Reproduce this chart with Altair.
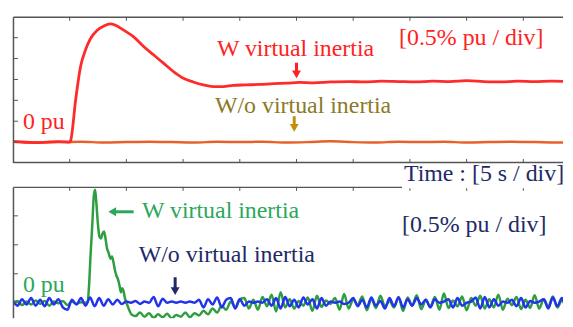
import altair as alt
import pandas as pd

# ---------------- data (time in s, 5 s/div ; values in % pu, 0.5 %/div) ----------------
T_END = 48.5
DIV_T = [5, 10, 15, 20, 25, 30, 35, 40, 45]

# top panel: with virtual inertia (red)
red_t = [0, 2.0, 4.0, 5.0, 5.1, 5.53, 5.96, 6.40, 6.84, 7.43, 8.01, 8.60, 9.18, 9.76, 10.64,
         11.52, 12.39, 13.27, 14.15, 15.03, 15.90, 16.78, 17.66, 18.54, 19.41, 20.5, 21.75,
         23.0, 24.2, 25.26, 26.5, 28.0, 29.65, 31.0, 32.5, 34.0, 35.5, 37.0, 38.5, 40.0,
         41.5, 43.0, 44.5, 46.0, 47.5, 49.2]
red_v = [0.01, -0.01, 0.01, 0.0, 0.05, 1.02, 1.81, 2.21, 2.48, 2.68, 2.78, 2.83, 2.78, 2.68,
         2.52, 2.29, 2.09, 1.89, 1.69, 1.53, 1.44, 1.37, 1.33, 1.33, 1.36, 1.37, 1.38, 1.40,
         1.41, 1.43, 1.42, 1.44, 1.45, 1.44, 1.46, 1.45, 1.44, 1.46, 1.45, 1.47, 1.45, 1.44,
         1.46, 1.45, 1.46, 1.45]

# top panel: without virtual inertia (orange)
orange_t = [0, 2, 4, 6, 8, 10, 12, 14, 16, 18, 20, 22, 24, 26, 28, 30, 32, 34, 36, 38, 40,
            42, 44, 46, 48, 49.2]
orange_v = [0.01, -0.01, 0.0, 0.01, -0.01, 0.0, 0.01, 0.0, -0.01, 0.01, 0.0, 0.01, -0.01,
            0.0, 0.02, 0.0, -0.01, 0.01, 0.0, 0.01, -0.01, 0.0, 0.01, 0.0, -0.01, 0.0]

# bottom panel: without virtual inertia (blue), sampled every 0.4 s
blue_v = [0.03, -0.05, 0.06, -0.03, 0.08, -0.05, 0.05, -0.06, 0.08, -0.03,
          0.06, -0.08, -0.12, 0.05, -0.03,
          0.08, -0.05, 0.09, -0.06, 0.08,
          -0.05, 0.06, -0.03, 0.05, -0.02,
          0.02, 0.00, 0.03, -0.02, 0.02, 0.00,
          0.10, -0.06, 0.07,
          0.00, 0.02, 0.00, 0.02, 0.00, 0.02, 0.00,
          0.05, -0.08, 0.06, -0.03, 0.09, -0.08, 0.05,
          0.08, -0.10, 0.06, -0.05,
          0.02, 0.00, 0.02, 0.00,
          0.06, -0.05, 0.08, -0.10, 0.10, -0.06, 0.05, -0.08, 0.09, -0.03, 0.06, -0.10, 0.08, -0.05,
          0.02, 0.00, 0.02, -0.02, 0.00,
          0.08, -0.06, 0.05, -0.08, 0.09, -0.05, 0.03, -0.10, 0.08, -0.06, 0.09, -0.08, 0.06,
          -0.05, 0.08, -0.03, 0.05, -0.08, 0.06, 0.00, 0.02,
          0.06, -0.08, 0.08, -0.05, 0.00, 0.02, 0.09, -0.10, 0.10, -0.08, 0.06, -0.05, 0.02, 0.00,
          0.05, -0.06, 0.08, -0.08, 0.03, 0.00, 0.02, 0.06, -0.10, 0.09, -0.06, 0.08, -0.05, 0.03]
blue_t = [round(i * 0.4, 1) for i in range(len(blue_v))]

# bottom panel: with virtual inertia (green)
green_pre_v = [0.00, 0.03, -0.04, 0.02, -0.03, 0.04, -0.02, 0.03, -0.05, 0.02, -0.01, 0.03,
               -0.04, 0.02, -0.02, 0.01, 0.00]
green_pre_t = [round(i * 0.4, 1) for i in range(len(green_pre_v))]
green_mid_t = [6.58, 6.71, 6.84, 6.99, 7.13, 7.24, 7.34, 7.48, 7.63, 7.76, 7.89, 8.03, 8.16,
               8.29, 8.42, 8.60, 8.73, 8.86, 8.99, 9.12, 9.27, 9.39, 9.52, 9.61, 9.74, 9.87,
               10.06, 10.26, 10.44]
green_mid_v = [0.01, 0.30, 0.82, 1.33, 1.85, 1.95, 1.76, 1.38, 1.14, 1.11, 1.19, 1.23, 1.11,
               0.94, 0.87, 0.76, 0.80, 0.70, 0.56, 0.47, 0.40, 0.30, 0.18, 0.25, 0.21, 0.08,
               -0.03, -0.13, -0.20]
green_post_v = [-0.23, -0.17, -0.24, -0.18, -0.26, -0.20, -0.25, -0.19, -0.27, -0.21, -0.24,
                -0.17, -0.25, -0.18, -0.22, -0.14, -0.20, -0.10, -0.17, -0.05, -0.12, 0.02,
                -0.08, 0.06,
                0.08, -0.10, 0.05, -0.12, 0.10, -0.06, 0.14, -0.15, 0.18, -0.08,
                0.06, -0.10, 0.03, -0.05, 0.09, -0.14, 0.12, -0.07, 0.04, -0.02,
                0.08, -0.12, 0.15, -0.10, 0.06, -0.04, 0.11, -0.13, 0.07, -0.09,
                0.12, -0.06, 0.03, -0.08, 0.10, -0.14, 0.09, -0.05, 0.13, -0.11,
                0.05, -0.07, 0.10, -0.12, 0.16, -0.09, 0.04, -0.06, 0.11, -0.13,
                0.08, -0.05, 0.12, -0.10, 0.06, -0.08, 0.14, -0.12, 0.07, -0.04,
                0.10, -0.11, 0.05, -0.09, 0.13, -0.10, 0.06, -0.07, 0.11, -0.08,
                0.04, -0.06, 0.09]
green_post_t = [round(10.8 + i * 0.4, 1) for i in range(len(green_post_v))]

# labels
top_lab_t = [0.88, 17.98, 34.04, 17.81]
top_lab_v = [0.31, 2.05, 2.33, 0.70]
top_lab_txt = ["0 pu", "W virtual inertia", "[0.5% pu / div]", "W/o virtual inertia"]
top_lab_col = ["#ff2222", "#ff2222", "#ff2222", "#8a7a28"]

bot_lab_t = [34.47, 34.3, 11.37, 11.08, 0.88]
bot_lab_v = [2.10, 1.215, 1.47, 0.70, 0.185]
bot_lab_txt = ["Time : [5 s / div]", "[0.5% pu / div]", "W virtual inertia",
               "W/o virtual inertia", "0 pu"]
bot_lab_col = ["#1e2a66", "#1e2a66", "#2aa85a", "#1e2a66", "#2aa85a"]

# ---------------- styles ----------------
W, H1, H2 = 553, 147, 132
BC = "#555555"
FONT = "Liberation Serif"
FS = 24
xs = alt.Scale(domain=[0, T_END], nice=False, zero=False)
ys1 = alt.Scale(domain=[-0.5, 3.0], nice=False, zero=False)
ys2 = alt.Scale(domain=[2.0 - H2 / 58.25, 2.0], nice=False, zero=False)


def grid_axis(values):
    return alt.Axis(values=values, grid=True, gridDash=[2, 3], gridColor="#c4c4c4",
                    gridWidth=1, labels=False, ticks=False, domain=False, title=None,
                    minExtent=0, maxExtent=0)


one = alt.Data(values=[{"a": 1}])
tick_x = pd.DataFrame({"t": DIV_T})


def panel(ys, h, yvals, lines, labels, arrows, heads, bottom_border, extra=None):
    layers = []
    first = True
    for df, col, sw in lines:
        layers.append(
            alt.Chart(df).mark_line(color=col, strokeWidth=sw, interpolate="monotone",
                                    clip=True).encode(
                x=alt.X("t:Q", scale=xs, axis=grid_axis(DIV_T) if first else None),
                y=alt.Y("v:Q", scale=ys, axis=grid_axis(yvals) if first else None),
            )
        )
        first = False
    # borders
    layers.append(alt.Chart(one).mark_rule(color=BC, strokeWidth=1.5).encode(
        x=alt.value(0.5), x2=alt.value(W), y=alt.value(0.5)))
    layers.append(alt.Chart(one).mark_rule(color=BC, strokeWidth=1.5).encode(
        x=alt.value(0.5), y=alt.value(0.5), y2=alt.value(h)))
    if bottom_border:
        layers.append(alt.Chart(one).mark_rule(color=BC, strokeWidth=1.5).encode(
            x=alt.value(0.5), x2=alt.value(W), y=alt.value(h - 0.5)))
        layers.append(alt.Chart(tick_x).mark_rule(color=BC).encode(
            x=alt.X("t:Q", scale=xs, axis=None), y=alt.value(h - 4), y2=alt.value(h)))
    layers.append(alt.Chart(tick_x).mark_rule(color=BC).encode(
        x=alt.X("t:Q", scale=xs, axis=None), y=alt.value(0), y2=alt.value(4)))
    layers.append(alt.Chart(pd.DataFrame({"v": yvals})).mark_rule(color=BC).encode(
        y=alt.Y("v:Q", scale=ys, axis=None), x=alt.value(0), x2=alt.value(5)))
    if extra is not None:
        layers.append(extra)
    layers.append(alt.Chart(arrows).mark_rule(strokeWidth=3).encode(
        x=alt.X("t:Q", scale=xs, axis=None), x2="t2:Q",
        y=alt.Y("v:Q", scale=ys, axis=None), y2="v2:Q",
        color=alt.Color("col:N", scale=None)))
    layers.append(alt.Chart(heads).mark_point(filled=True, size=80, opacity=1).encode(
        x=alt.X("t:Q", scale=xs, axis=None),
        y=alt.Y("v:Q", scale=ys, axis=None),
        shape=alt.Shape("shape:N", scale=None),
        color=alt.Color("col:N", scale=None)))
    layers.append(alt.Chart(labels).mark_text(align="left", baseline="alphabetic", font=FONT,
                                              fontSize=FS).encode(
        x=alt.X("t:Q", scale=xs, axis=None),
        y=alt.Y("v:Q", scale=ys, axis=None),
        text="txt:N",
        color=alt.Color("col:N", scale=None)))
    return alt.layer(*layers).properties(width=W, height=h)


top_lines = [
    (pd.DataFrame({"t": orange_t, "v": orange_v}), "#e8602a", 2.5),
    (pd.DataFrame({"t": red_t, "v": red_v}), "#ff2a2a", 2.8),
]
top_labels = pd.DataFrame({"t": top_lab_t, "v": top_lab_v, "txt": top_lab_txt, "col": top_lab_col})
top_arrows = pd.DataFrame({"t": [25.0, 24.8], "t2": [25.0, 24.8], "v": [1.90, 0.62],
                           "v2": [1.66, 0.38], "col": ["#ff2222", "#c0900a"]})
top_heads = pd.DataFrame({"t": [25.0, 24.8], "v": [1.62, 0.34],
                          "shape": ["triangle-down", "triangle-down"],
                          "col": ["#ff2222", "#c0900a"]})

green_df = pd.DataFrame({"t": green_pre_t + green_mid_t + green_post_t,
                         "v": green_pre_v + green_mid_v + green_post_v})
bot_lines = [
    (green_df, "#2e9e3e", 2.5),
    (pd.DataFrame({"t": blue_t, "v": blue_v}), "#2233ee", 2.5),
]
bot_labels = pd.DataFrame({"t": bot_lab_t, "v": bot_lab_v, "txt": bot_lab_txt, "col": bot_lab_col})
bot_arrows = pd.DataFrame({"t": [9.0, 14.3], "t2": [10.64, 14.3], "v": [1.57, 0.44],
                           "v2": [1.57, 0.24], "col": ["#2aa85a", "#1e2a66"]})
bot_heads = pd.DataFrame({"t": [8.75, 14.3], "v": [1.57, 0.20],
                          "shape": ["triangle-left", "triangle-down"],
                          "col": ["#2aa85a", "#1e2a66"]})
time_box = alt.Chart(pd.DataFrame({"t": [34.3], "t2": [48.5], "v": [2.25], "v2": [1.975]})).mark_rect(
    color="white").encode(
    x=alt.X("t:Q", scale=xs, axis=None), x2="t2:Q",
    y=alt.Y("v:Q", scale=ys2, axis=None), y2="v2:Q")

top = panel(ys1, H1, [0, 0.5, 1.0, 1.5, 2.0, 2.5],
            top_lines, top_labels, top_arrows, top_heads, True)
bottom = panel(ys2, H2, [0, 0.5, 1.0, 1.5], bot_lines, bot_labels, bot_arrows, bot_heads, False,
               extra=time_box)

chart = alt.vconcat(top, bottom, spacing=24, bounds="flush").resolve_scale(
    x="independent", y="independent").properties(
    padding={"left": 4, "top": 7, "right": 0, "bottom": 0}, background="white"
).configure_view(stroke=None)

chart.save("out.html", embed_options={"renderer": "svg", "actions": False})
